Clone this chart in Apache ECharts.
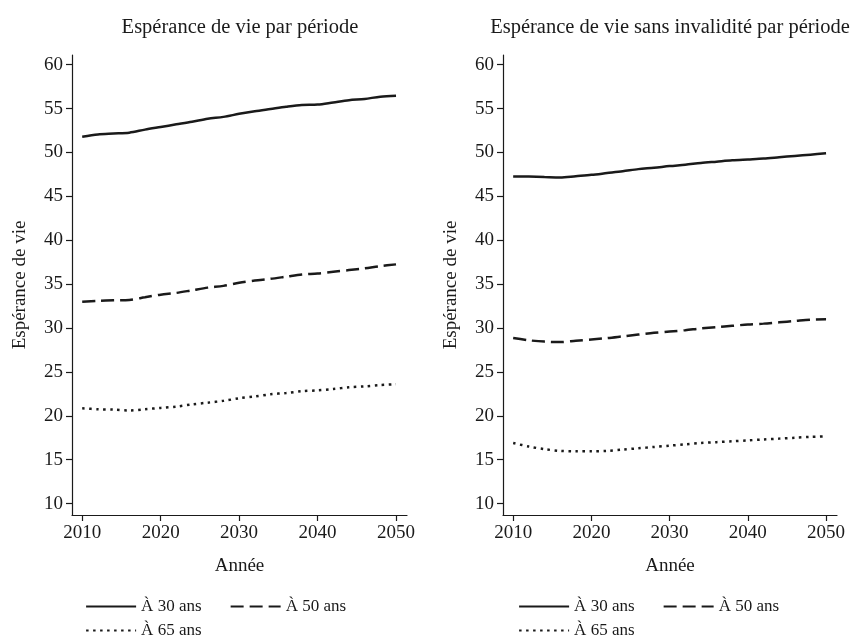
<!DOCTYPE html>
<html>
<head>
<meta charset="utf-8">
<script src="https://cdn.jsdelivr.net/npm/echarts@6/dist/echarts.min.js"></script>
<style>html,body{margin:0;padding:0;background:#fff}#c{width:857px;height:636px}</style>
</head>
<body>
<div id="c"></div>
<script>
var years = [2010,2012,2014,2016,2018,2020,2022,2024,2026,2028,2030,2032,2034,2036,2038,2040,2042,2044,2046,2048,2050];
var leftE30 = [51.8,52.05,52.15,52.25,52.6,52.9,53.2,53.5,53.85,54.05,54.4,54.7,54.95,55.2,55.4,55.45,55.7,55.95,56.1,56.35,56.45];
var leftE50 = [33.0,33.1,33.15,33.2,33.5,33.8,34.0,34.3,34.6,34.8,35.15,35.4,35.6,35.85,36.1,36.2,36.4,36.6,36.8,37.05,37.25];
var leftE65 = [20.85,20.75,20.7,20.6,20.75,20.9,21.05,21.3,21.5,21.7,22.0,22.2,22.45,22.6,22.8,22.9,23.05,23.25,23.35,23.5,23.6];
var rightE30 = [47.27,47.25,47.2,47.15,47.3,47.45,47.65,47.85,48.1,48.25,48.45,48.6,48.8,48.95,49.1,49.2,49.3,49.45,49.6,49.75,49.9];
var rightE50 = [28.85,28.6,28.45,28.4,28.55,28.7,28.85,29.05,29.25,29.45,29.6,29.75,29.95,30.1,30.25,30.4,30.5,30.65,30.8,30.95,31.0];
var rightE65 = [16.9,16.5,16.2,16.0,15.95,15.95,16.0,16.15,16.3,16.45,16.6,16.75,16.9,17.0,17.1,17.2,17.3,17.4,17.5,17.6,17.65];
var yTicks = [10,15,20,25,30,35,40,45,50,55,60];
var xTicks = [2010,2020,2030,2040,2050];
var titles = ['Espérance de vie par période', 'Espérance de vie sans invalidité par période'];
var seriesNames = ['À 30 ans', 'À 50 ans', 'À 65 ans'];
var yName = 'Espérance de vie';
var xName = 'Année';

var FONT = '"Liberation Serif", "DejaVu Serif", serif';
var INK = '#1a1a1a';
var FS = 19;
var lineTypes = ['solid', [13, 6], [2.5, 4.5]];

function pairs(vals){ return years.map(function(y,i){ return [y, vals[i]]; }); }

function xAxis(idx){
  return {
    type:'value', gridIndex: idx, min: 2008.7, max: 2051.4,
    name: xName, nameLocation:'middle', nameGap: 42,
    nameTextStyle:{fontFamily:FONT, fontSize:FS, color:INK},
    axisLine:{show:true, lineStyle:{color:INK, width:1.2}},
    axisTick:{show:true, length:6, lineStyle:{color:INK, width:1.2}, customValues: xTicks},
    axisLabel:{fontFamily:FONT, fontSize:FS, color:INK, margin:9, customValues: xTicks,
      formatter:function(v){ return String(Math.round(v)); }},
    splitLine:{show:false}
  };
}
function yAxis(idx){
  return {
    type:'value', gridIndex: idx, min: 8.7, max: 61.1,
    name: yName, nameLocation:'middle', nameGap: 42, nameRotate: 90,
    nameTextStyle:{fontFamily:FONT, fontSize:FS, color:INK},
    axisLine:{show:true, lineStyle:{color:INK, width:1.2}},
    axisTick:{show:true, length:6, lineStyle:{color:INK, width:1.2}, customValues: yTicks},
    axisLabel:{fontFamily:FONT, fontSize:FS, color:INK, margin:9, customValues: yTicks,
      formatter:function(v){ return String(Math.round(v)); }},
    splitLine:{show:false}
  };
}
function mk(name, vals, idx, t){
  return {
    type:'line', name:name, xAxisIndex: idx, yAxisIndex: idx, data: pairs(vals),
    symbol:'none', showSymbol:false, smooth: 0.3, silent:true, animation:false,
    lineStyle:{color:INK, width:2.5, type: lineTypes[t]},
    itemStyle:{color:INK}
  };
}
function legends(left){
  var common = {
    show:true, orient:'horizontal', itemWidth:50, itemHeight:12, itemGap:28,
    textStyle:{fontFamily:FONT, fontSize:17, color:INK},
    itemStyle:{color:'rgba(0,0,0,0)', borderWidth:0, opacity:0},
    lineStyle:{width:2.2},
    selectedMode:false
  };
  return [
    Object.assign({}, common, {left:left, top:593, data:[seriesNames[0], seriesNames[1]]}),
    Object.assign({}, common, {left:left, top:617, data:[seriesNames[2]]})
  ];
}

var chart = echarts.init(document.getElementById('c'), null, {renderer:'canvas'});
var option = {
  backgroundColor:'#fff',
  animation:false,
  title:[
    {text:titles[0], left:235, top:12, textAlign:'center', textStyle:{fontFamily:FONT, fontSize:20.5, fontWeight:'normal', color:INK}},
    {text:titles[1], left:665, top:12, textAlign:'center', textStyle:{fontFamily:FONT, fontSize:20.5, fontWeight:'normal', color:INK}}
  ],
  grid:[
    {left:72, top:55, width:335, height:460},
    {left:503, top:55, width:334, height:460}
  ],
  xAxis:[xAxis(0), xAxis(1)],
  yAxis:[yAxis(0), yAxis(1)],
  legend: legends(80).concat(legends(513)),
  series:[
    mk(seriesNames[0], leftE30, 0, 0),
    mk(seriesNames[1], leftE50, 0, 1),
    mk(seriesNames[2], leftE65, 0, 2),
    mk(seriesNames[0], rightE30, 1, 0),
    mk(seriesNames[1], rightE50, 1, 1),
    mk(seriesNames[2], rightE65, 1, 2)
  ]
};
chart.setOption(option);
</script>
</body>
</html>
